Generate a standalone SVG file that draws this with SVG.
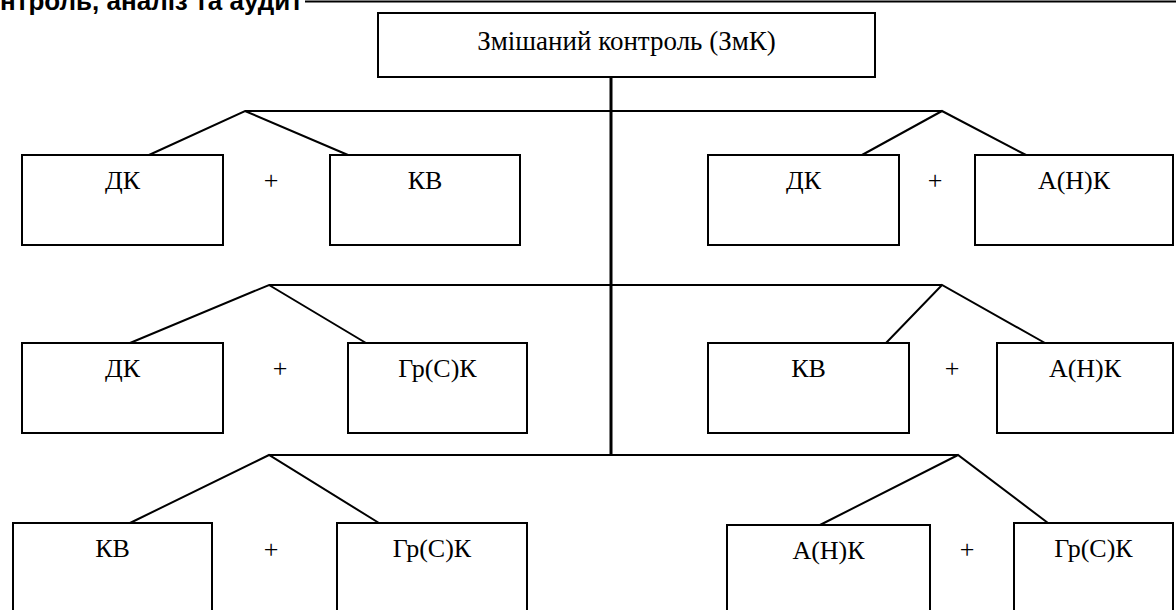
<svg xmlns="http://www.w3.org/2000/svg" width="1176" height="610" viewBox="0 0 1176 610">
<style>
.box{fill:#fff;stroke:#000;stroke-width:2}
.lbl{font-family:"Liberation Serif","Times New Roman",serif;font-size:26px;fill:#000;text-anchor:middle}
.con{fill:none;stroke:#000;stroke-width:2}
.trunk{fill:none;stroke:#000;stroke-width:3}
.title{font-family:"Liberation Sans",Arial,sans-serif;font-size:26px;font-weight:bold;fill:#000}
</style>
<rect width="1176" height="610" fill="#fff"/>
<g id="title">
<text class="title" x="0" y="10">нтроль, аналіз та аудит</text>
<line x1="305" y1="1.5" x2="1176" y2="1.5" stroke="#000" stroke-width="2"/>
</g>
<g id="connectors">
<line class="trunk" x1="611" y1="77" x2="611" y2="455"/>
<polyline class="con" points="149,155 245,111 348,155"/>
<line class="con" x1="245" y1="111" x2="942" y2="111"/>
<polyline class="con" points="862,155 942,111 1026,155"/>
<polyline class="con" points="130,343 269,285 366,343"/>
<line class="con" x1="269" y1="285" x2="942" y2="285"/>
<polyline class="con" points="886,343 942,285 1045,343"/>
<polyline class="con" points="130,523 269,455 379,523"/>
<line class="con" x1="269" y1="455" x2="958" y2="455"/>
<polyline class="con" points="820,525 958,455 1048,523"/>
</g>
<g id="root">
<rect class="box" x="378" y="13" width="497" height="64"/>
<text class="lbl" x="626.5" y="50" style="font-size:27px">Змішаний контроль (ЗмК)</text>
</g>
<g id="r1-dk">
<rect class="box" x="22" y="155" width="201" height="90"/>
<text class="lbl" x="122.5" y="189">ДК</text>
</g>
<g id="r1-plus-l"><text class="lbl" x="271" y="189">+</text></g>
<g id="r1-kv">
<rect class="box" x="330" y="155" width="190" height="90"/>
<text class="lbl" x="425" y="189">КВ</text>
</g>
<g id="r1-dk2">
<rect class="box" x="708" y="155" width="191" height="90"/>
<text class="lbl" x="803.5" y="189">ДК</text>
</g>
<g id="r1-plus-r"><text class="lbl" x="935" y="189">+</text></g>
<g id="r1-ank">
<rect class="box" x="975" y="155" width="198" height="90"/>
<text class="lbl" x="1074" y="189">А(Н)К</text>
</g>
<g id="r2-dk">
<rect class="box" x="22" y="343" width="201" height="90"/>
<text class="lbl" x="122.5" y="377">ДК</text>
</g>
<g id="r2-plus-l"><text class="lbl" x="280" y="377">+</text></g>
<g id="r2-grsk">
<rect class="box" x="348" y="343" width="179" height="90"/>
<text class="lbl" x="437.5" y="377">Гр(С)К</text>
</g>
<g id="r2-kv">
<rect class="box" x="708" y="343" width="201" height="90"/>
<text class="lbl" x="808.5" y="377">КВ</text>
</g>
<g id="r2-plus-r"><text class="lbl" x="952" y="377">+</text></g>
<g id="r2-ank">
<rect class="box" x="997" y="343" width="176" height="90"/>
<text class="lbl" x="1085" y="377">А(Н)К</text>
</g>
<g id="r3-kv">
<rect class="box" x="13" y="523" width="199" height="100"/>
<text class="lbl" x="112.5" y="557">КВ</text>
</g>
<g id="r3-plus-l"><text class="lbl" x="271" y="558">+</text></g>
<g id="r3-grsk">
<rect class="box" x="337" y="523" width="190" height="100"/>
<text class="lbl" x="432" y="557">Гр(С)К</text>
</g>
<g id="r3-ank">
<rect class="box" x="727" y="525" width="203" height="100"/>
<text class="lbl" x="828.5" y="559">А(Н)К</text>
</g>
<g id="r3-plus-r"><text class="lbl" x="967" y="558">+</text></g>
<g id="r3-grsk2">
<rect class="box" x="1014" y="523" width="159" height="100"/>
<text class="lbl" x="1093.5" y="557">Гр(С)К</text>
</g>
</svg>
